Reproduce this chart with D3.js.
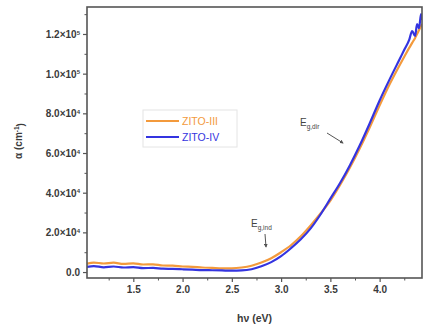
<!DOCTYPE html>
<html><head><meta charset="utf-8">
<script src="https://cdn.jsdelivr.net/npm/d3@7"></script>
<style>body{margin:0;background:#fff}svg{display:block}text{font-family:"Liberation Sans",Arial,sans-serif}</style>
</head><body><svg id="c" width="428" height="329"></svg>
<script>
const hv =   [1.03,1.1,1.2,1.3,1.4,1.5,1.6,1.7,1.8,1.9,2.0,2.1,2.2,2.3,2.4,2.5,2.6,2.7,2.8,2.9,3.0,3.1,3.2,3.3,3.4,3.5,3.6,3.7,3.8,3.9,4.0,4.1,4.2,4.25,4.3,4.33,4.36,4.38,4.4,4.42,4.43];
const zito3 = [4200,4800,4300,4700,4100,4400,3800,3900,3300,3200,2800,2600,2300,2100,1900,1900,2300,3200,4800,7000,10000,13500,18000,23500,29500,36000,44000,52800,62500,73000,84000,94500,104000,108500,113000,115500,118000,120000,122000,124000,125000];
const zito4 = [2600,3000,2400,2800,2300,2500,2000,2100,1700,1600,1400,1200,1000,900,800,700,800,1400,2900,5000,8000,12000,16500,22000,29000,37000,45000,54000,64000,75000,86500,97000,107000,112000,117000,121500,119000,125000,123000,130000,127000];
const seriesNames = ["ZITO-III","ZITO-IV"];
const seriesColors = ["#f39a3c","#3434e0"];
const xTicks = [1.5,2.0,2.5,3.0,3.5,4.0];
const yTicks = [0,20000,40000,60000,80000,100000,120000];
const yTickMant = ["0.0","2.0","4.0","6.0","8.0","1.0","1.2"];
const yTickExp = [null,"4","4","4","4","5","5"];

const svg = d3.select("#c");
const L=87,R=422,T=7,B=278;
const x = d3.scaleLinear().domain([1.03,4.43]).range([L,R]);
const y = d3.scaleLinear().domain([-3000,133600]).range([B,T]);
const axisCol="#555", txtCol="#3a3a3a";

svg.append("defs").append("clipPath").attr("id","clip").append("rect").attr("x",L).attr("y",T).attr("width",R-L).attr("height",B-T);

const line = d3.line().x(d=>x(d[0])).y(d=>y(d[1])).curve(d3.curveMonotoneX);
const g = svg.append("g").attr("clip-path","url(#clip)");
[zito3,zito4].forEach((s,i)=>{
  g.append("path").datum(hv.map((h,j)=>[h,s[j]])).attr("d",line).attr("fill","none")
   .attr("stroke",seriesColors[i]).attr("stroke-width",2.2).attr("stroke-linejoin","round");
});

// frame
svg.append("rect").attr("x",L).attr("y",T).attr("width",R-L).attr("height",B-T).attr("fill","none").attr("stroke",axisCol).attr("stroke-width",1.6);

// x axis
const xMinor = d3.range(1.25,4.43,0.25).filter(v=>!xTicks.some(t=>Math.abs(t-v)<1e-6));
const xa = svg.append("g").attr("transform",`translate(0,${B})`)
  .call(d3.axisBottom(x).tickValues(xTicks).tickSize(4).tickPadding(4).tickFormat(d3.format(".1f")));
xa.select(".domain").remove();
xa.selectAll("line").attr("stroke",axisCol).attr("stroke-width",1.2);
xa.selectAll("text").attr("fill",txtCol).attr("font-size",10).attr("font-weight","bold").style("font-family","Liberation Sans, Arial, sans-serif");
const xm = svg.append("g").attr("transform",`translate(0,${B})`).call(d3.axisBottom(x).tickValues(xMinor).tickSize(2.5).tickFormat(""));
xm.select(".domain").remove(); xm.selectAll("line").attr("stroke",axisCol).attr("stroke-width",1);

// y axis
const ya = svg.append("g").attr("transform",`translate(${L},0)`)
  .call(d3.axisLeft(y).tickValues(yTicks).tickSize(4).tickPadding(3).tickFormat(""));
ya.select(".domain").remove();
ya.selectAll("line").attr("stroke",axisCol).attr("stroke-width",1.2);
ya.selectAll(".tick").each(function(d,i){
  const t = d3.select(this).append("text").attr("x",-7).attr("dy","0.35em").attr("text-anchor","end")
    .attr("fill",txtCol).attr("font-size",10).attr("font-weight","bold");
  if(yTickExp[i]===null){ t.text(yTickMant[i]); }
  else {
    t.append("tspan").text(yTickMant[i]+"×10");
    t.append("tspan").text(yTickExp[i]).attr("font-size",6).attr("dy","-0.55em");
  }
});
const yMinor = d3.range(10000,133600,20000);
const ym = svg.append("g").attr("transform",`translate(${L},0)`).call(d3.axisLeft(y).tickValues(yMinor).tickSize(2.5).tickFormat(""));
ym.select(".domain").remove(); ym.selectAll("line").attr("stroke",axisCol).attr("stroke-width",1);

// axis titles
svg.append("text").attr("x",(L+R)/2).attr("y",322).attr("text-anchor","middle").attr("font-size",10.5).attr("font-weight","bold").attr("fill",txtCol).text("hν (eV)");
const yt = svg.append("text").attr("transform","translate(22,141) rotate(-90)").attr("text-anchor","middle").attr("font-size",10).attr("font-weight","bold").attr("fill",txtCol);
yt.append("tspan").text("α (cm");
yt.append("tspan").text("-1").attr("font-size",6.5).attr("dy","-0.5em");
yt.append("tspan").text(")").attr("dy","0.5em");

// legend
const lg = svg.append("g");
lg.append("rect").attr("x",143).attr("y",110).attr("width",94).attr("height",37).attr("fill","none").attr("stroke","#e4e4e4").attr("stroke-width",1);
seriesNames.forEach((n,i)=>{
  const yy = 121 + i*16;
  lg.append("line").attr("x1",146).attr("x2",179).attr("y1",yy).attr("y2",yy).attr("stroke",seriesColors[i]).attr("stroke-width",2);
  lg.append("text").attr("x",182).attr("y",yy).attr("dy","0.35em").attr("font-size",10.5).attr("fill",seriesColors[i]).text(n);
});

// annotations
function label(xp,yp,sub){
  const t = svg.append("text").attr("x",xp).attr("y",yp).attr("font-size",10).attr("fill","#444");
  t.append("tspan").text("E");
  t.append("tspan").text(sub).attr("font-size",6.5).attr("dy","0.45em");
}
label(251,227,"g,ind");
label(300,126,"g,dir");
svg.append("defs").append("marker").attr("id","ah").attr("viewBox","0 0 10 10").attr("refX",8).attr("refY",5)
  .attr("markerWidth",4).attr("markerHeight",4).attr("orient","auto").append("path").attr("d","M0,0L10,5L0,10z").attr("fill","#555");
svg.append("line").attr("x1",265).attr("y1",234).attr("x2",266).attr("y2",247).attr("stroke","#555").attr("stroke-width",1).attr("marker-end","url(#ah)");
svg.append("line").attr("x1",327).attr("y1",133).attr("x2",343).attr("y2",143).attr("stroke","#555").attr("stroke-width",1).attr("marker-end","url(#ah)");
</script></body></html>
